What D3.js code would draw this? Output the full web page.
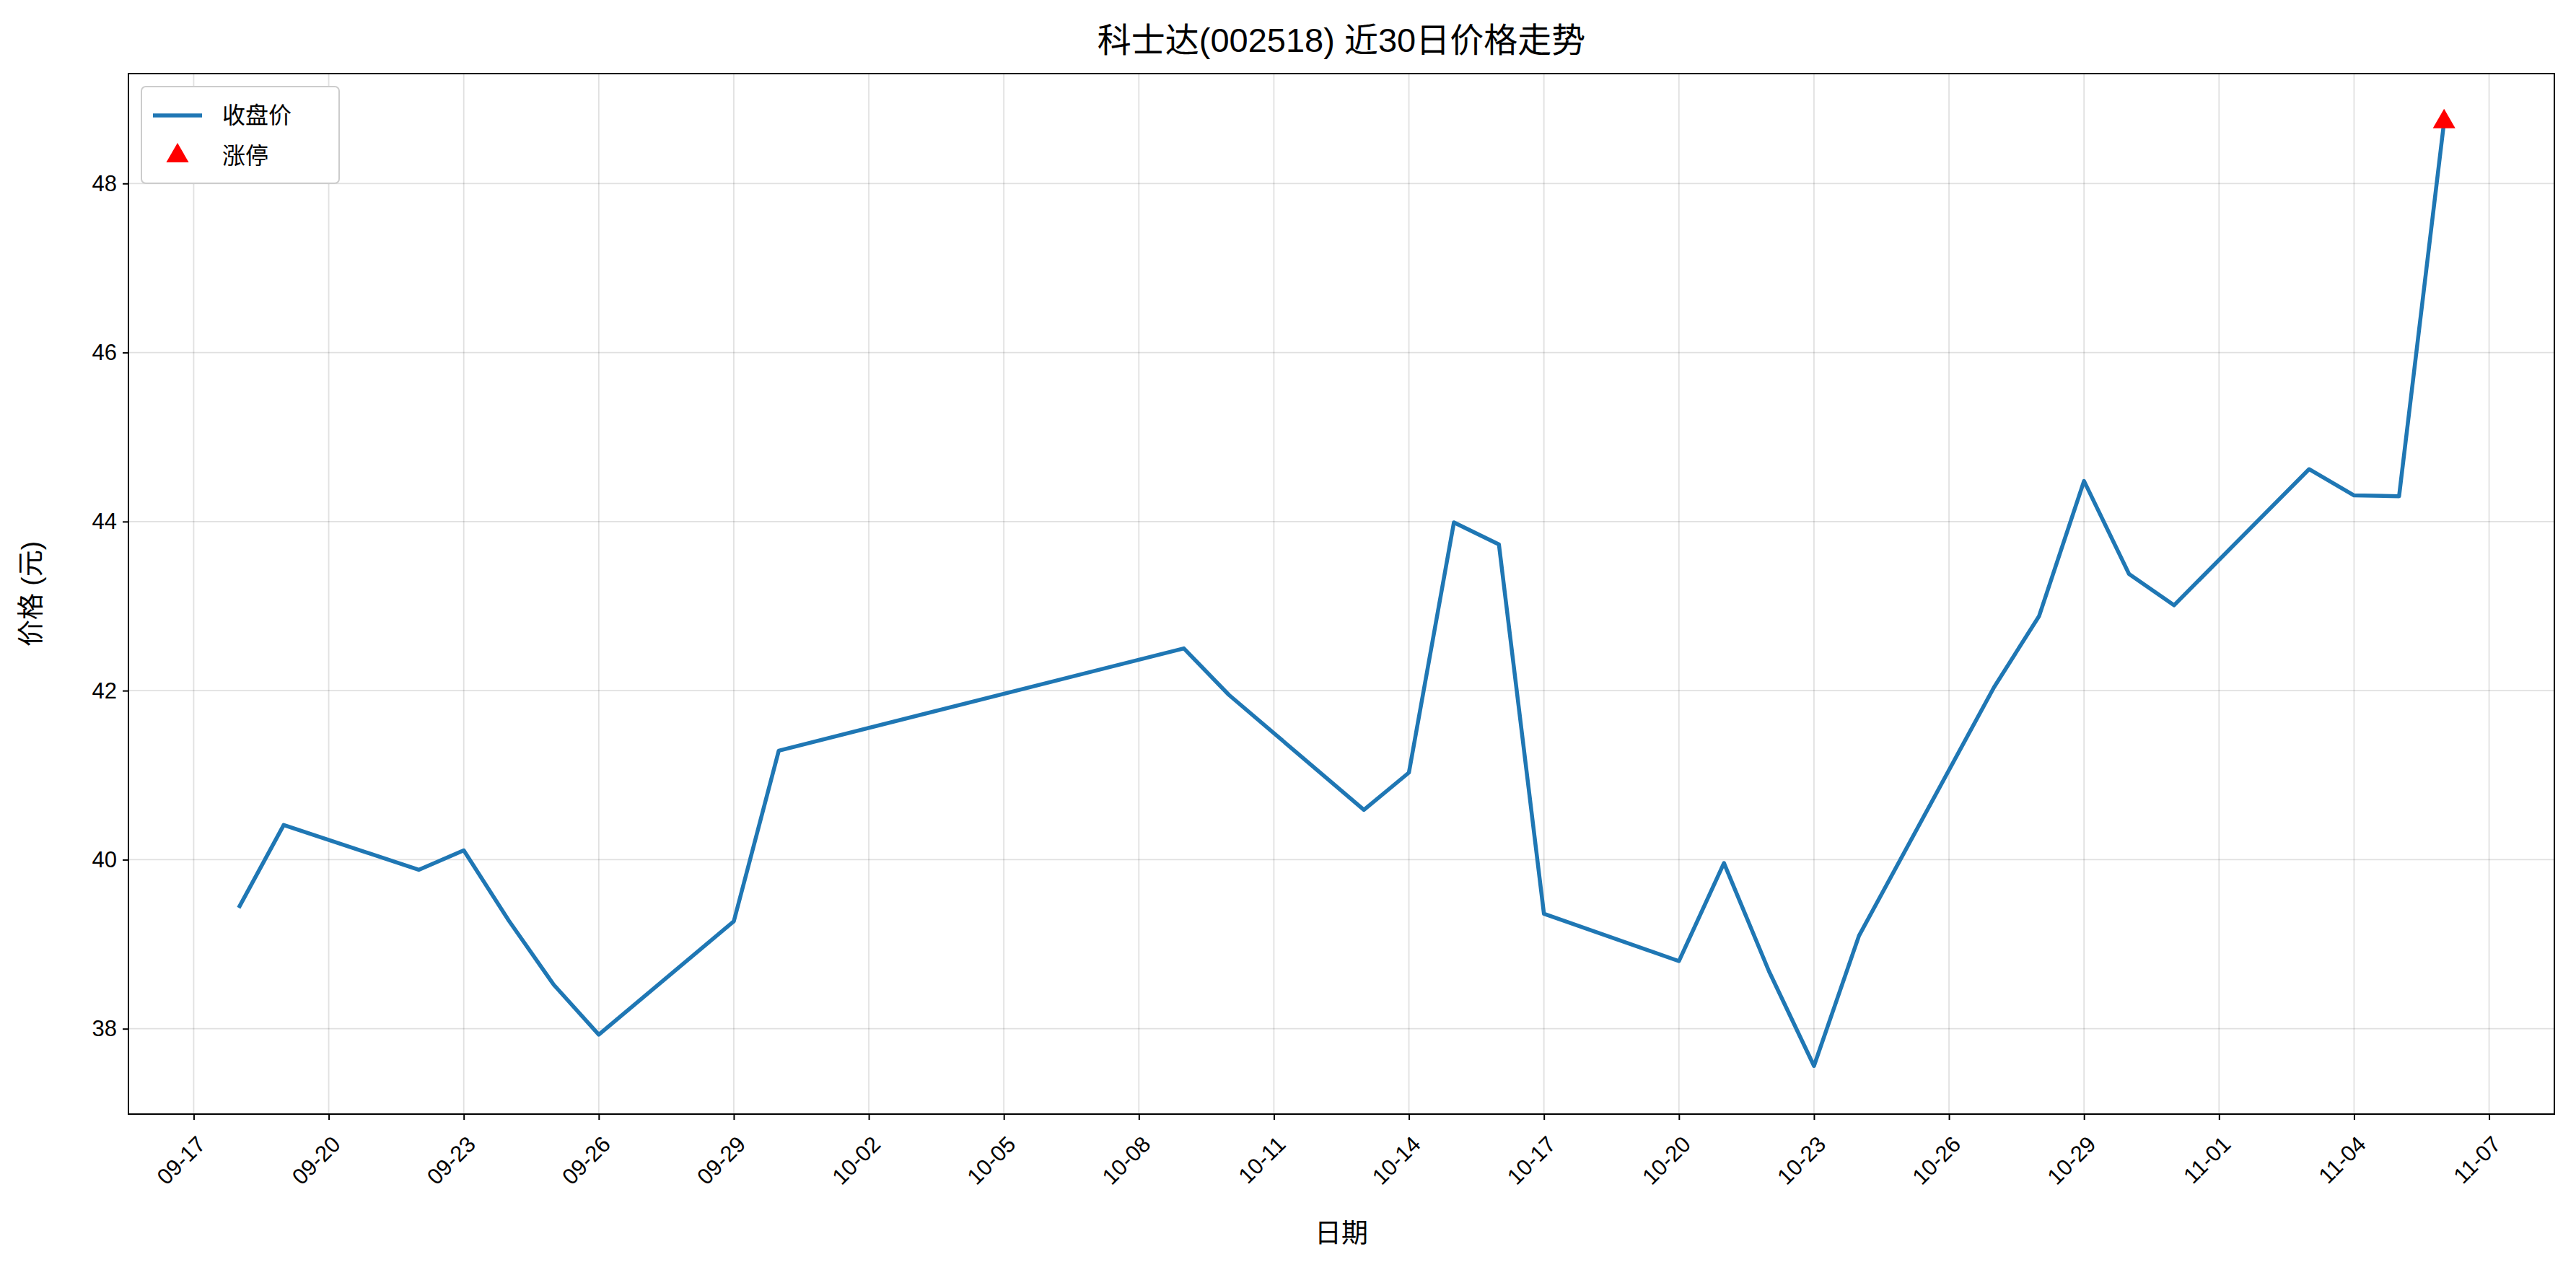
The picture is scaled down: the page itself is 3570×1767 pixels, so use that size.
<!DOCTYPE html>
<html><head><meta charset="utf-8">
<script src="https://cdn.jsdelivr.net/npm/d3@7"></script>
<style>
body{margin:0;background:#fff;}
text{font-family:"Liberation Sans","Noto Sans CJK SC",sans-serif;}
</style></head>
<body><svg id="chart" width="3570" height="1767"></svg>
<script>
const dates = ["09-18","09-19","09-22","09-23","09-24","09-25","09-26","09-29","09-30","10-09",
  "10-10","10-13","10-14","10-15","10-16","10-17","10-20","10-21","10-22","10-23",
  "10-24","10-27","10-28","10-29","10-30","10-31","11-03","11-04","11-05","11-06"];
const closes = [39.43,40.41,39.88,40.11,39.28,38.52,37.93,39.27,41.29,42.50,
  41.95,40.59,41.03,43.99,43.73,39.36,38.80,39.96,38.68,37.56,
  39.10,42.04,42.88,44.48,43.38,43.01,44.62,44.31,44.30,48.73];
const limitUp = ["11-06"];
const xTicks = ["09-17","09-20","09-23","09-26","09-29","10-02","10-05","10-08","10-11","10-14",
  "10-17","10-20","10-23","10-26","10-29","11-01","11-04","11-07"];
const yTicks = [38,40,42,44,46,48];

const parse = s => d3.timeParse("%Y-%m-%d")("2025-" + s);
const data = dates.map((d, i) => ({date: parse(d), v: closes[i], key: d}));

const svg = d3.select("#chart");
const m = {l: 178, r: 3540, t: 102, b: 1544};
const x0 = parse("09-18"), x1 = parse("11-06");
const pad = (x1 - x0) * 0.05;
const x = d3.scaleTime().domain([new Date(+x0 - pad), new Date(+x1 + pad)]).range([m.l, m.r]);
const y = d3.scaleLinear().domain([36.99, 49.30]).range([m.b, m.t]);

// grid
svg.append("g").selectAll("line").data(xTicks).join("line")
  .attr("x1", d => x(parse(d))).attr("x2", d => x(parse(d)))
  .attr("y1", m.t).attr("y2", m.b).attr("stroke", "#000").attr("stroke-opacity", 0.12).attr("stroke-width", 1.8);
svg.append("g").selectAll("line").data(yTicks).join("line")
  .attr("y1", d => y(d)).attr("y2", d => y(d))
  .attr("x1", m.l).attr("x2", m.r).attr("stroke", "#000").attr("stroke-opacity", 0.12).attr("stroke-width", 1.8);

// axes
const xa = svg.append("g").attr("transform", `translate(0,${m.b})`)
  .call(d3.axisBottom(x).tickValues(xTicks.map(parse)).tickFormat(d3.timeFormat("%m-%d")).tickSize(8).tickPadding(0));
xa.selectAll("text").attr("font-size", 31).attr("fill", "#000")
  .attr("text-anchor", "end").attr("x", 0).attr("y", 0).attr("dy", "0.35em")
  .attr("transform", "translate(10,36) rotate(-45)");
const ya = svg.append("g").attr("transform", `translate(${m.l},0)`)
  .call(d3.axisLeft(y).tickValues(yTicks).tickSize(8).tickPadding(8));
ya.selectAll("text").attr("font-size", 31).attr("fill", "#000");
svg.selectAll(".domain").remove();
svg.selectAll(".tick line").attr("stroke-width", 2);
svg.append("rect").attr("x", m.l).attr("y", m.t).attr("width", m.r - m.l).attr("height", m.b - m.t)
  .attr("fill", "none").attr("stroke", "#000").attr("stroke-width", 2);

// line
svg.append("path").datum(data)
  .attr("d", d3.line().x(d => x(d.date)).y(d => y(d.v)))
  .attr("fill", "none").attr("stroke", "#1f77b4").attr("stroke-width", 5.5).attr("stroke-linejoin", "round");

// limit-up markers
const tri = d3.symbol().type(d3.symbolTriangle).size(420);
svg.append("g").selectAll("path").data(data.filter(d => limitUp.includes(d.key))).join("path")
  .attr("d", tri).attr("transform", d => `translate(${x(d.date)},${y(d.v)})`).attr("fill", "red");

// titles
svg.append("text").attr("x", (m.l + m.r) / 2).attr("y", 72).attr("text-anchor", "middle")
  .attr("font-size", 47).text("科士达(002518) 近30日价格走势");
svg.append("text").attr("x", (m.l + m.r) / 2).attr("y", 1722).attr("text-anchor", "middle")
  .attr("font-size", 37).text("日期");
svg.append("text").attr("transform", `translate(56,${(m.t + m.b) / 2}) rotate(-90)`).attr("text-anchor", "middle")
  .attr("font-size", 37).text("价格 (元)");

// legend
const lg = svg.append("g").attr("transform", `translate(${m.l + 18},${m.t + 18})`);
lg.append("rect").attr("width", 274).attr("height", 134).attr("rx", 6)
  .attr("fill", "#fff").attr("stroke", "#ccc").attr("stroke-width", 2);
lg.append("line").attr("x1", 16).attr("x2", 84).attr("y1", 40).attr("y2", 40)
  .attr("stroke", "#1f77b4").attr("stroke-width", 5.5);
lg.append("path").attr("d", tri).attr("transform", "translate(50,96)").attr("fill", "red");
lg.append("text").attr("x", 112).attr("y", 51).attr("font-size", 32).text("收盘价");
lg.append("text").attr("x", 112).attr("y", 107).attr("font-size", 32).text("涨停");
</script></body></html>
